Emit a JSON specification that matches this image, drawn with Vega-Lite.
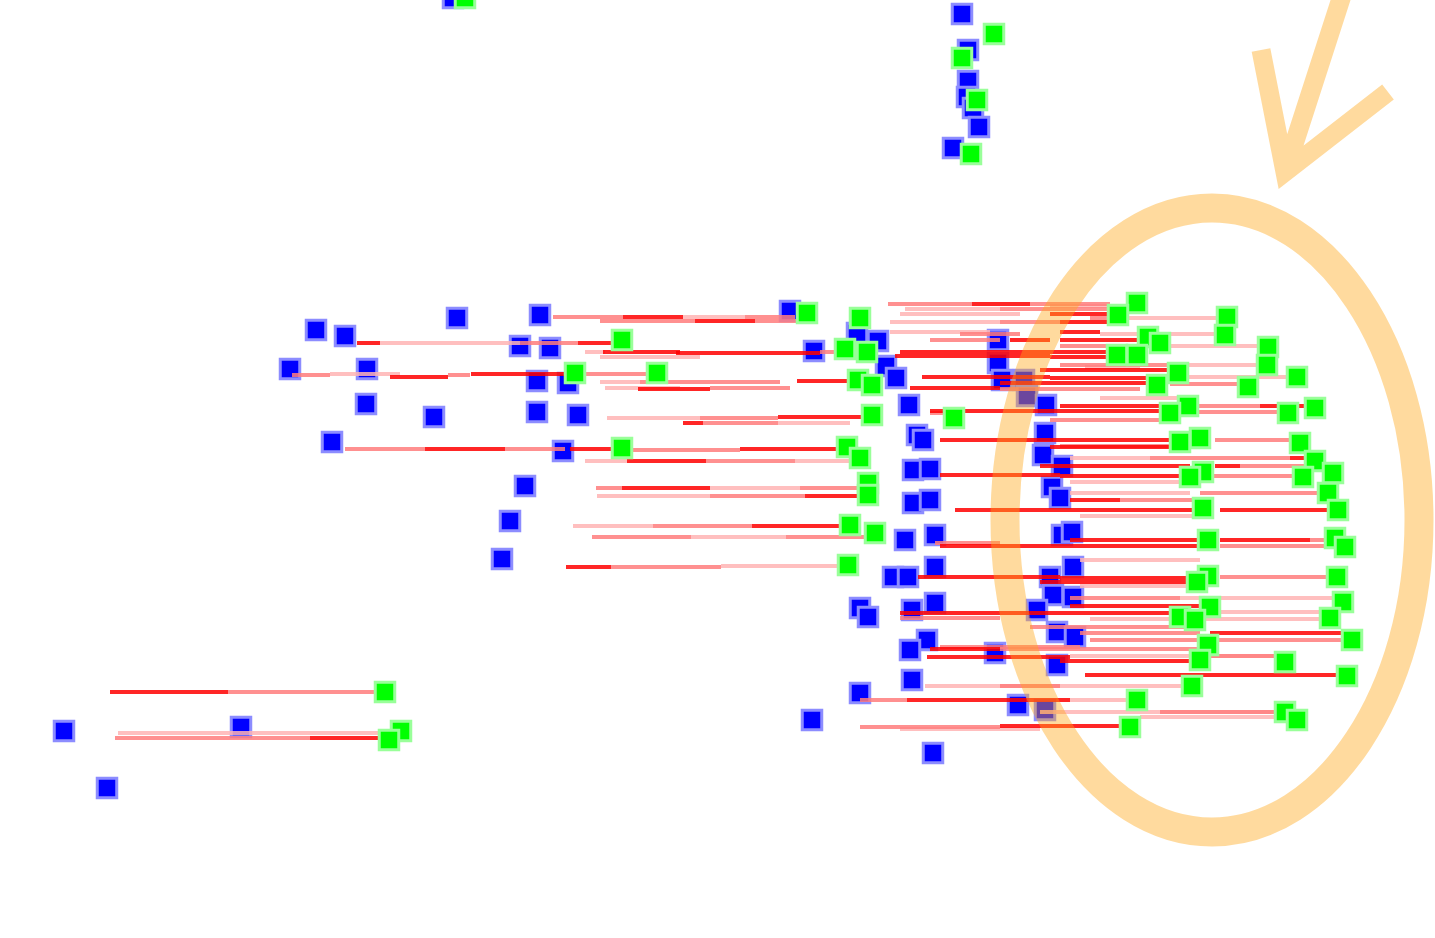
{
 "$schema": "https://vega.github.io/schema/vega-lite/v6.json",
 "width": 1435, "height": 938, "padding": 0, "autosize": {"type": "none"},
 "background": "white",
 "config": {"view": {"stroke": null}},
 "datasets": {
  "blue": [
   {"x":453,"y":-2},{"x":962,"y":14},{"x":968,"y":50},{"x":968,"y":81},{"x":967,"y":97},{"x":973,"y":108},{"x":979,"y":127},{"x":953,"y":148},
   {"x":316,"y":330},{"x":345,"y":336},{"x":457,"y":318},{"x":540,"y":315},{"x":290,"y":369},{"x":367,"y":369},{"x":520,"y":346},{"x":550,"y":348},{"x":366,"y":404},{"x":434,"y":417},{"x":537,"y":381},{"x":568,"y":383},{"x":537,"y":412},{"x":578,"y":415},{"x":332,"y":442},{"x":563,"y":451},{"x":525,"y":486},{"x":510,"y":521},{"x":502,"y":559},
   {"x":790,"y":311},{"x":814,"y":351},{"x":857,"y":333},{"x":878,"y":341},{"x":886,"y":366},{"x":896,"y":378},{"x":909,"y":405},{"x":917,"y":435},{"x":923,"y":440},{"x":913,"y":470},{"x":930,"y":469},{"x":913,"y":503},{"x":930,"y":500},{"x":905,"y":540},{"x":935,"y":535},{"x":893,"y":577},{"x":908,"y":577},{"x":935,"y":567},{"x":860,"y":608},{"x":868,"y":617},{"x":912,"y":610},{"x":935,"y":603},{"x":927,"y":640},{"x":910,"y":650},{"x":995,"y":653},{"x":912,"y":680},{"x":860,"y":693},{"x":812,"y":720},{"x":933,"y":753},{"x":1018,"y":705},{"x":1045,"y":710},
   {"x":998,"y":340},{"x":998,"y":363},{"x":1002,"y":380},{"x":1024,"y":380},{"x":1027,"y":396},{"x":1046,"y":405},{"x":1045,"y":433},{"x":1043,"y":455},{"x":1062,"y":466},{"x":1052,"y":487},{"x":1060,"y":498},{"x":1062,"y":535},{"x":1072,"y":532},{"x":1050,"y":577},{"x":1073,"y":567},{"x":1053,"y":595},{"x":1073,"y":597},{"x":1037,"y":610},{"x":1057,"y":632},{"x":1075,"y":637},{"x":1057,"y":665},
   {"x":64,"y":731},{"x":241,"y":727},{"x":107,"y":788}
  ],
  "green": [
   {"x":465,"y":-2},{"x":994,"y":34},{"x":962,"y":58},{"x":977,"y":100},{"x":971,"y":154},
   {"x":807,"y":313},{"x":860,"y":318},{"x":845,"y":349},{"x":867,"y":352},{"x":858,"y":380},{"x":872,"y":385},{"x":872,"y":415},{"x":954,"y":418},{"x":847,"y":447},{"x":860,"y":458},{"x":868,"y":483},{"x":868,"y":495},{"x":850,"y":525},{"x":875,"y":533},{"x":848,"y":565},
   {"x":622,"y":340},{"x":575,"y":373},{"x":657,"y":373},{"x":622,"y":448},
   {"x":1137,"y":303},{"x":1118,"y":315},{"x":1227,"y":317},{"x":1225,"y":335},{"x":1148,"y":337},{"x":1160,"y":343},{"x":1117,"y":355},{"x":1137,"y":355},{"x":1268,"y":347},{"x":1267,"y":365},{"x":1178,"y":373},{"x":1157,"y":385},{"x":1248,"y":387},{"x":1297,"y":377},{"x":1188,"y":406},{"x":1170,"y":413},{"x":1288,"y":413},{"x":1315,"y":408},{"x":1200,"y":438},{"x":1180,"y":442},{"x":1300,"y":443},{"x":1315,"y":461},{"x":1333,"y":473},{"x":1303,"y":477},{"x":1203,"y":472},{"x":1190,"y":477},{"x":1328,"y":493},{"x":1203,"y":508},{"x":1338,"y":510},{"x":1208,"y":540},{"x":1335,"y":538},{"x":1345,"y":547},{"x":1208,"y":576},{"x":1197,"y":582},{"x":1337,"y":577},{"x":1343,"y":602},{"x":1210,"y":607},{"x":1180,"y":617},{"x":1195,"y":620},{"x":1330,"y":618},{"x":1352,"y":640},{"x":1208,"y":645},{"x":1200,"y":660},{"x":1285,"y":662},{"x":1192,"y":686},{"x":1347,"y":676},{"x":1137,"y":700},{"x":1130,"y":727},{"x":1285,"y":712},{"x":1297,"y":720},
   {"x":385,"y":692},{"x":401,"y":731},{"x":389,"y":740}
  ],
  "lines": [
   {"a":553,"b":623,"y":317,"c":"m"},{"a":623,"b":683,"y":317,"c":"r"},{"a":683,"b":745,"y":317,"c":"l"},{"a":745,"b":795,"y":317,"c":"m"},
   {"a":600,"b":695,"y":321,"c":"m"},{"a":695,"b":755,"y":321,"c":"r"},{"a":755,"b":805,"y":321,"c":"m"},
   {"a":357,"b":380,"y":343,"c":"r"},{"a":380,"b":520,"y":343,"c":"l"},{"a":520,"b":578,"y":343,"c":"m"},{"a":578,"b":612,"y":343,"c":"r"},
   {"a":585,"b":605,"y":352,"c":"l"},{"a":603,"b":680,"y":352,"c":"r"},{"a":676,"b":820,"y":353,"c":"r"},{"a":820,"b":845,"y":352,"c":"m"},
   {"a":600,"b":700,"y":357,"c":"l"},
   {"a":292,"b":330,"y":375,"c":"m"},{"a":330,"b":400,"y":374,"c":"l"},{"a":390,"b":448,"y":377,"c":"r"},{"a":448,"b":470,"y":375,"c":"m"},{"a":471,"b":565,"y":374,"c":"r"},
   {"a":585,"b":650,"y":374,"c":"m"},
   {"a":600,"b":640,"y":382,"c":"l"},{"a":640,"b":780,"y":382,"c":"m"},{"a":797,"b":852,"y":381,"c":"r"},
   {"a":605,"b":680,"y":388,"c":"l"},{"a":638,"b":710,"y":389,"c":"r"},{"a":710,"b":790,"y":388,"c":"m"},
   {"a":607,"b":700,"y":418,"c":"l"},{"a":700,"b":778,"y":418,"c":"m"},{"a":778,"b":865,"y":417,"c":"r"},
   {"a":683,"b":703,"y":423,"c":"r"},{"a":703,"b":778,"y":423,"c":"m"},{"a":778,"b":850,"y":423,"c":"l"},
   {"a":345,"b":425,"y":449,"c":"m"},{"a":425,"b":505,"y":449,"c":"r"},{"a":505,"b":565,"y":449,"c":"m"},{"a":570,"b":612,"y":449,"c":"r"},
   {"a":630,"b":740,"y":450,"c":"m"},{"a":740,"b":840,"y":449,"c":"r"},
   {"a":585,"b":627,"y":461,"c":"l"},{"a":627,"b":706,"y":461,"c":"r"},{"a":706,"b":795,"y":461,"c":"m"},{"a":795,"b":855,"y":461,"c":"l"},
   {"a":596,"b":622,"y":488,"c":"m"},{"a":622,"b":710,"y":488,"c":"r"},{"a":710,"b":800,"y":488,"c":"l"},{"a":800,"b":860,"y":488,"c":"m"},
   {"a":597,"b":710,"y":496,"c":"l"},{"a":710,"b":805,"y":496,"c":"m"},{"a":805,"b":860,"y":496,"c":"r"},
   {"a":573,"b":653,"y":526,"c":"l"},{"a":653,"b":752,"y":526,"c":"m"},{"a":752,"b":845,"y":526,"c":"r"},
   {"a":592,"b":691,"y":537,"c":"m"},{"a":691,"b":786,"y":537,"c":"l"},{"a":786,"b":870,"y":537,"c":"m"},
   {"a":566,"b":611,"y":567,"c":"r"},{"a":611,"b":721,"y":567,"c":"m"},{"a":721,"b":845,"y":566,"c":"l"},
   {"a":110,"b":228,"y":692,"c":"r"},{"a":228,"b":380,"y":692,"c":"m"},
   {"a":118,"b":245,"y":733,"c":"l"},{"a":245,"b":390,"y":733,"c":"l"},
   {"a":115,"b":245,"y":738,"c":"m"},{"a":245,"b":310,"y":738,"c":"m"},{"a":310,"b":385,"y":738,"c":"r"},
   {"a":888,"b":972,"y":304,"c":"m"},{"a":972,"b":1030,"y":304,"c":"r"},{"a":1030,"b":1110,"y":304,"c":"m"},{"a":1050,"b":1130,"y":306,"c":"l"},
   {"a":905,"b":1000,"y":309,"c":"l"},{"a":1000,"b":1110,"y":309,"c":"m"},
   {"a":900,"b":1020,"y":314,"c":"l"},{"a":1050,"b":1110,"y":314,"c":"r"},
   {"a":1090,"b":1120,"y":318,"c":"m"},{"a":1120,"b":1218,"y":318,"c":"l"},
   {"a":890,"b":1000,"y":322,"c":"l"},{"a":1000,"b":1060,"y":322,"c":"m"},{"a":1060,"b":1110,"y":322,"c":"r"},
   {"a":890,"b":990,"y":332,"c":"l"},{"a":960,"b":1020,"y":334,"c":"m"},{"a":1060,"b":1100,"y":332,"c":"r"},{"a":1100,"b":1218,"y":334,"c":"l"},
   {"a":930,"b":1000,"y":340,"c":"m"},{"a":1010,"b":1050,"y":340,"c":"r"},{"a":1060,"b":1140,"y":340,"c":"r"},
   {"a":1060,"b":1170,"y":346,"c":"m"},{"a":1170,"b":1260,"y":346,"c":"l"},
   {"a":900,"b":1000,"y":352,"c":"r"},{"a":1000,"b":1110,"y":352,"c":"r"},
   {"a":895,"b":1050,"y":356,"c":"r"},{"a":1050,"b":1130,"y":357,"c":"r"},
   {"a":1060,"b":1170,"y":365,"c":"m"},{"a":1170,"b":1260,"y":365,"c":"l"},
   {"a":1040,"b":1172,"y":370,"c":"r"},{"a":1085,"b":1140,"y":367,"c":"l"},
   {"a":922,"b":1050,"y":377,"c":"r"},{"a":1050,"b":1150,"y":378,"c":"r"},{"a":1180,"b":1290,"y":377,"c":"l"},
   {"a":1000,"b":1150,"y":383,"c":"r"},{"a":1170,"b":1242,"y":384,"c":"m"},
   {"a":910,"b":1000,"y":388,"c":"r"},{"a":1000,"b":1140,"y":389,"c":"m"},
   {"a":1100,"b":1180,"y":398,"c":"l"},
   {"a":1060,"b":1185,"y":406,"c":"r"},{"a":1195,"b":1260,"y":406,"c":"m"},{"a":1260,"b":1308,"y":406,"c":"r"},
   {"a":930,"b":1050,"y":411,"c":"r"},{"a":1050,"b":1165,"y":411,"c":"r"},{"a":1195,"b":1282,"y":412,"c":"m"},
   {"a":930,"b":950,"y":413,"c":"m"},
   {"a":1050,"b":1170,"y":420,"c":"m"},
   {"a":940,"b":1060,"y":440,"c":"r"},{"a":1060,"b":1175,"y":440,"c":"r"},{"a":1215,"b":1295,"y":440,"c":"m"},
   {"a":1060,"b":1180,"y":446,"c":"m"},{"a":1050,"b":1195,"y":447,"c":"r"},
   {"a":1070,"b":1150,"y":458,"c":"l"},{"a":1150,"b":1290,"y":458,"c":"m"},{"a":1290,"b":1310,"y":458,"c":"r"},
   {"a":1040,"b":1190,"y":466,"c":"r"},{"a":1215,"b":1240,"y":466,"c":"r"},{"a":1240,"b":1325,"y":466,"c":"m"},
   {"a":940,"b":1060,"y":475,"c":"r"},{"a":1060,"b":1188,"y":476,"c":"r"},{"a":1205,"b":1298,"y":476,"c":"m"},
   {"a":1070,"b":1190,"y":482,"c":"l"},
   {"a":1070,"b":1190,"y":493,"c":"l"},{"a":1200,"b":1322,"y":493,"c":"m"},
   {"a":1070,"b":1120,"y":500,"c":"r"},{"a":1120,"b":1200,"y":500,"c":"m"},
   {"a":955,"b":1060,"y":510,"c":"r"},{"a":1060,"b":1198,"y":510,"c":"r"},{"a":1220,"b":1332,"y":510,"c":"r"},
   {"a":1080,"b":1200,"y":516,"c":"l"},
   {"a":1070,"b":1200,"y":540,"c":"r"},{"a":1220,"b":1310,"y":540,"c":"r"},{"a":1310,"b":1330,"y":540,"c":"m"},
   {"a":935,"b":1000,"y":543,"c":"m"},
   {"a":940,"b":1060,"y":546,"c":"r"},{"a":1060,"b":1200,"y":546,"c":"r"},{"a":1220,"b":1340,"y":546,"c":"m"},
   {"a":1080,"b":1200,"y":560,"c":"l"},
   {"a":918,"b":1060,"y":577,"c":"r"},{"a":1060,"b":1195,"y":578,"c":"r"},{"a":1220,"b":1330,"y":577,"c":"m"},
   {"a":1040,"b":1190,"y":582,"c":"r"},{"a":1080,"b":1190,"y":586,"c":"l"},
   {"a":1070,"b":1180,"y":598,"c":"m"},{"a":1180,"b":1340,"y":598,"c":"l"},
   {"a":1070,"b":1210,"y":606,"c":"r"},
   {"a":900,"b":1000,"y":613,"c":"r"},{"a":1000,"b":1178,"y":613,"c":"r"},{"a":1220,"b":1328,"y":612,"c":"l"},
   {"a":900,"b":1000,"y":618,"c":"m"},{"a":1090,"b":1328,"y":619,"c":"l"},
   {"a":1030,"b":1190,"y":627,"c":"m"},
   {"a":1080,"b":1200,"y":633,"c":"m"},{"a":1210,"b":1345,"y":633,"c":"r"},
   {"a":1090,"b":1345,"y":640,"c":"m"},
   {"a":940,"b":1080,"y":647,"c":"m"},{"a":930,"b":1000,"y":649,"c":"r"},{"a":1000,"b":1200,"y":649,"c":"m"},
   {"a":1070,"b":1280,"y":656,"c":"l"},{"a":1200,"b":1280,"y":656,"c":"m"},
   {"a":927,"b":1070,"y":657,"c":"r"},{"a":1060,"b":1190,"y":661,"c":"r"},
   {"a":1085,"b":1345,"y":675,"c":"r"},
   {"a":925,"b":1190,"y":686,"c":"l"},{"a":1000,"b":1060,"y":686,"c":"m"},
   {"a":860,"b":907,"y":700,"c":"m"},{"a":907,"b":1070,"y":700,"c":"r"},{"a":1070,"b":1135,"y":700,"c":"l"},
   {"a":1040,"b":1285,"y":712,"c":"l"},{"a":1160,"b":1275,"y":712,"c":"m"},
   {"a":1140,"b":1295,"y":717,"c":"l"},
   {"a":860,"b":1000,"y":727,"c":"m"},{"a":1000,"b":1130,"y":726,"c":"r"},{"a":900,"b":1040,"y":729,"c":"l"}
  ]
 },
 "layer": [
  {
   "data": {"name": "blue"},
   "mark": {"type": "square", "size": 380, "filled": true, "color": "#0000ff", "stroke": "#8c8cff", "strokeWidth": 3, "opacity": 1},
   "encoding": {
    "x": {"field": "x", "type": "quantitative", "scale": {"domain": [0, 1435], "nice": false, "zero": false}, "axis": null},
    "y": {"field": "y", "type": "quantitative", "scale": {"domain": [0, 938], "reverse": true, "nice": false, "zero": false}, "axis": null}
   }
  },
  {
   "data": {"name": "lines"},
   "mark": {"type": "rule", "strokeWidth": 4, "strokeCap": "butt", "opacity": 0.85},
   "encoding": {
    "x": {"field": "a", "type": "quantitative", "scale": {"domain": [0, 1435], "nice": false, "zero": false}, "axis": null},
    "x2": {"field": "b"},
    "y": {"field": "y", "type": "quantitative", "scale": {"domain": [0, 938], "reverse": true, "nice": false, "zero": false}, "axis": null},
    "color": {"field": "c", "type": "nominal", "scale": {"domain": ["l", "m", "r"], "range": ["#ffb4b4", "#ff7c7c", "#ff0000"]}, "legend": null},
    "order": {"field": "c", "type": "nominal"}
   }
  },
  {
   "data": {"name": "green"},
   "mark": {"type": "square", "size": 380, "filled": true, "color": "#00ff00", "stroke": "#99ff99", "strokeWidth": 3, "opacity": 1},
   "encoding": {
    "x": {"field": "x", "type": "quantitative", "scale": {"domain": [0, 1435], "nice": false, "zero": false}, "axis": null},
    "y": {"field": "y", "type": "quantitative", "scale": {"domain": [0, 938], "reverse": true, "nice": false, "zero": false}, "axis": null}
   }
  },
  {
   "data": {"values": [{"x": 1212, "y": 520}]},
   "mark": {"type": "point", "shape": "M -207,0 A 207,312 0 1,1 207,0 A 207,312 0 1,1 -207,0 Z", "size": 4, "filled": false, "color": "#ffa81a", "strokeWidth": 29, "opacity": 0.42},
   "encoding": {
    "x": {"field": "x", "type": "quantitative", "scale": {"domain": [0, 1435], "nice": false, "zero": false}, "axis": null},
    "y": {"field": "y", "type": "quantitative", "scale": {"domain": [0, 938], "reverse": true, "nice": false, "zero": false}, "axis": null}
   }
  },
  {
   "data": {"values": [{"x": 1285, "y": 172}]},
   "mark": {"type": "point", "shape": "M -24,-122 L 0,0 L 103,-80 M 0,0 L 62,-192", "size": 4, "filled": false, "color": "#ffa81a", "strokeWidth": 19, "strokeJoin": "miter", "strokeCap": "butt", "opacity": 0.42},
   "encoding": {
    "x": {"field": "x", "type": "quantitative", "scale": {"domain": [0, 1435], "nice": false, "zero": false}, "axis": null},
    "y": {"field": "y", "type": "quantitative", "scale": {"domain": [0, 938], "reverse": true, "nice": false, "zero": false}, "axis": null}
   }
  }
 ]
}
